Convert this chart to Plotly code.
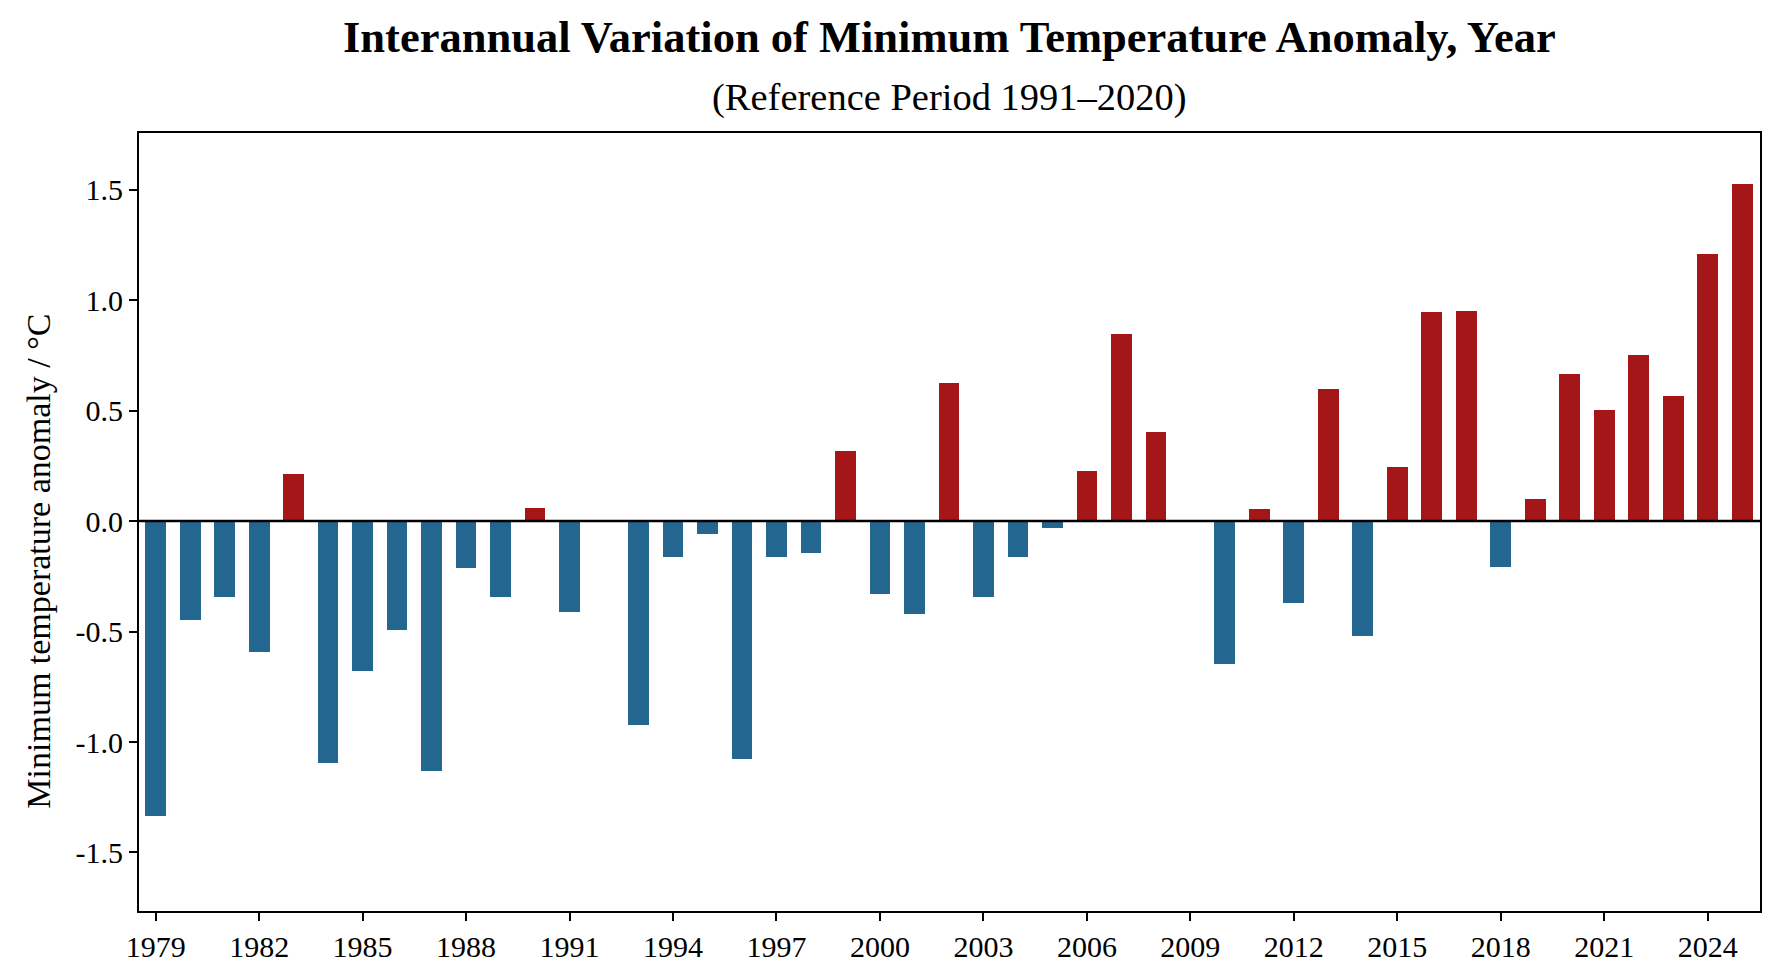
import plotly.graph_objects as go

years = list(range(1979, 2026))
anomaly = [
    -1.336, -0.449, -0.343, -0.592, 0.213, -1.094, -0.678, -0.494, -1.130, -0.211,
    -0.343, 0.059, -0.412, 0.0, -0.925, -0.161, -0.059, -1.079, -0.161, -0.144,
    0.317, -0.329, -0.421, 0.625, -0.344, -0.161, -0.032, 0.227, 0.847, 0.403,
    0.005, -0.647, 0.053, -0.370, 0.598, -0.519, 0.245, 0.947, 0.952, -0.207,
    0.100, 0.668, 0.503, 0.750, 0.565, 1.207, 1.527,
]
x_ticks = list(range(1979, 2025, 3))
y_ticks = [-1.5, -1.0, -0.5, 0.0, 0.5, 1.0, 1.5]
y_ticktext = ["-1.5", "-1.0", "-0.5", "0.0", "0.5", "1.0", "1.5"]

title_text = "Interannual Variation of Minimum Temperature Anomaly, Year"
subtitle_text = "(Reference Period 1991\u20132020)"
ylabel_text = "Minimum temperature anomaly / \u00b0C"

RED = "#A51618"
BLUE = "#236790"
colors = [RED if v > 0 else BLUE for v in anomaly]

FONT = "Liberation Serif"

fig = go.Figure()
fig.add_trace(go.Bar(
    x=years, y=anomaly, width=0.6,
    marker=dict(color=colors, line=dict(width=0)),
    showlegend=False,
))

fig.add_shape(type="line", xref="paper", yref="y", x0=0, x1=1, y0=0, y1=0,
              line=dict(color="black", width=2.5), layer="above")

fig.update_layout(
    width=1771, height=971,
    margin=dict(l=131, r=19, t=125, b=68, pad=0),
    paper_bgcolor="white", plot_bgcolor="white",
    font=dict(family=FONT, color="black"),
    bargap=0,
    annotations=[
        dict(text="<b>" + title_text + "</b>", xref="paper", yref="paper",
             x=0.5, y=(911 - 37) / 778, xanchor="center", yanchor="middle",
             showarrow=False, font=dict(family=FONT, size=44.5, color="black")),
        dict(text=subtitle_text, xref="paper", yref="paper",
             x=0.5, y=(911 - 98) / 778, xanchor="center", yanchor="middle",
             showarrow=False, font=dict(family=FONT, size=38.5, color="black")),
        dict(text=ylabel_text, xref="paper", yref="paper",
             x=(38 - 139.3) / 1620.7, y=(911 - 561) / 778,
             xanchor="center", yanchor="middle",
             textangle=-90, showarrow=False,
             font=dict(family=FONT, size=34, color="black")),
    ],
)

fig.update_xaxes(
    range=[1978.516, 2025.517],
    tickmode="array", tickvals=x_ticks, ticktext=[str(t) for t in x_ticks],
    ticks="outside", ticklen=8, tickwidth=1.5, tickcolor="black",
    showline=True, linecolor="black", linewidth=2, mirror=True,
    showgrid=False, zeroline=False,
    tickfont=dict(family=FONT, size=30, color="black"),
)
fig.update_yaxes(
    range=[-1.765, 1.757],
    tickmode="array", tickvals=y_ticks, ticktext=y_ticktext,
    ticks="outside", ticklen=8, tickwidth=1.5, tickcolor="black",
    showline=True, linecolor="black", linewidth=2, mirror=True,
    showgrid=False, zeroline=False,
    tickfont=dict(family=FONT, size=30, color="black"),
)

fig.write_html("out.html")
